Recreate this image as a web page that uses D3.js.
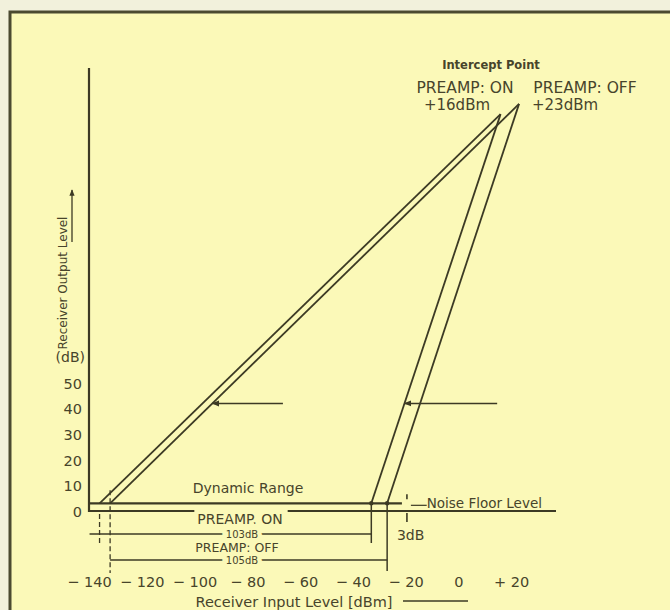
<!DOCTYPE html>
<html>
<head>
<meta charset="utf-8">
<script src="https://cdn.jsdelivr.net/npm/d3@7"></script>
<style>
  html, body { margin: 0; padding: 0; background: #f2f1dc; }
  svg { display: block; }
  text { font-family: "DejaVu Sans", sans-serif; fill: #47442b; }
</style>
</head>
<body>
<div id="chart"></div>
<script>
// values: input level in dBm, output level in dB
const xTicks = [-140, -120, -100, -80, -60, -40, -20, 0, 20]
const xTickLabels = ["− 140", "− 120", "− 100", "− 80", "− 60", "− 40", "− 20", "0", "+ 20"]
const yTicks = [0, 10, 20, 30, 40, 50]

const noiseFloor = 3
const onFundamental = [[-136, 3], [16, 155]]
const onThirdOrder = [[-33, 3], [16, 155]]
const offFundamental = [[-132, 3], [23, 159]]
const offThirdOrder = [[-27, 3], [23, 159]]
const pointerLevel = 42
const pointerEnds = [-66.5, 14.7]
const rangeLabels = ["103dB", "105dB"]

const W = 670, H = 610
const margin = {top: 68, right: 114, bottom: 99, left: 89}
const ink = "#3c3a24"
const paper = "#fbf9b8"

const svg = d3.select("#chart").append("svg")
  .attr("width", W)
  .attr("height", H)

// scanned sheet + frame
svg.append("rect").attr("width", W).attr("height", H).attr("fill", "#f2f1dc")
svg.append("rect")
  .attr("x", 10).attr("y", 12)
  .attr("width", W - 10).attr("height", H - 12)
  .attr("fill", paper)
svg.append("path")
  .attr("d", `M10,${H} V12 H${W}`)
  .attr("fill", "none")
  .attr("stroke", "#4b4a30")
  .attr("stroke-width", 3)

const x = d3.scaleLinear().domain([-140, 37]).range([margin.left, W - margin.right])
const y = d3.scaleLinear().domain([0, 173]).range([H - margin.bottom, margin.top])

// small arrow head, tip points along the line direction
svg.append("defs").append("marker")
  .attr("id", "head")
  .attr("viewBox", "0 0 10 10")
  .attr("refX", 9).attr("refY", 5)
  .attr("markerWidth", 5).attr("markerHeight", 5)
  .attr("orient", "auto")
  .append("path")
  .attr("d", "M0,1 L10,5 L0,9 Z")
  .attr("fill", ink)

const g = svg.append("g")

// tick labels, no tick marks
const yAxis = g.append("g")
  .attr("transform", `translate(${margin.left},0)`)
  .call(d3.axisLeft(y).tickValues(yTicks).tickSize(0).tickPadding(7))
const xAxis = g.append("g")
  .attr("transform", `translate(0,${y(0) + 66})`)
  .call(d3.axisBottom(x).tickValues(xTicks).tickSize(0).tickPadding(0)
    .tickFormat((d, i) => xTickLabels[i]))
yAxis.select(".domain").remove()
xAxis.select(".domain").remove()
g.selectAll(".tick text")
  .attr("font-family", "DejaVu Sans, sans-serif")
  .attr("font-size", "14.5px")
  .attr("fill", "#47442b")
yAxis.selectAll(".tick text").attr("dy", "0.36em")

g.append("text")
  .attr("x", margin.left - 4)
  .attr("y", y(60) + 5)
  .attr("text-anchor", "end")
  .attr("font-size", "14px")
  .text("(dB)")

// axis titles
g.append("text")
  .attr("transform", `translate(63,283) rotate(-90)`)
  .attr("text-anchor", "middle")
  .attr("dominant-baseline", "middle")
  .attr("font-size", "12px")
  .text("Receiver Output Level")
g.append("line")
  .attr("x1", 72).attr("y1", 242)
  .attr("x2", 72).attr("y2", 190)
  .attr("stroke", ink).attr("stroke-width", 1.3)
  .attr("marker-end", "url(#head)")

g.append("text")
  .attr("x", 294)
  .attr("y", 607)
  .attr("text-anchor", "middle")
  .attr("font-size", "14.5px")
  .text("Receiver Input Level [dBm]")
g.append("line")
  .attr("x1", 403).attr("x2", 468)
  .attr("y1", 601).attr("y2", 601)
  .attr("stroke", ink).attr("stroke-width", 1.5)

// "PREAMP. ON" sits in a gap of the x axis line
const onLabel = g.append("text")
  .attr("x", 240)
  .attr("y", y(0) + 13)
  .attr("text-anchor", "middle")
  .attr("font-size", "14px")
  .text("PREAMP. ON")
const ob = onLabel.node().getBBox()

g.append("path")
  .attr("d", `M${x(-140)},${y(173)} V${y(0)} H${ob.x - 3} M${ob.x + ob.width + 5},${y(0)} H${x(37)}`)
  .attr("fill", "none")
  .attr("stroke", ink)
  .attr("stroke-width", 2.2)

// noise floor
g.append("line")
  .attr("x1", x(-140)).attr("x2", x(-21.4))
  .attr("y1", y(noiseFloor)).attr("y2", y(noiseFloor))
  .attr("stroke", ink).attr("stroke-width", 2.2)
g.append("line")
  .attr("x1", x(-18)).attr("x2", x(-12))
  .attr("y1", y(noiseFloor) + 2).attr("y2", y(noiseFloor) + 2)
  .attr("stroke", ink).attr("stroke-width", 1.2)
g.append("text")
  .attr("x", x(-12))
  .attr("y", y(noiseFloor) + 5)
  .attr("font-size", "13.5px")
  .text("Noise Floor Level")

// 3 dB marker between axis and noise floor
const m3 = x(-19.5)
g.append("path")
  .attr("d", `M${m3},${y(noiseFloor) - 9} V${y(noiseFloor) - 4} M${m3},${y(0) + 2} V${y(0) + 11}`)
  .attr("stroke", ink).attr("stroke-width", 1.6)
g.append("text")
  .attr("x", m3 - 10)
  .attr("y", y(0) + 29)
  .attr("font-size", "14px")
  .text("3dB")

g.append("text")
  .attr("x", 248)
  .attr("y", y(noiseFloor) - 10)
  .attr("text-anchor", "middle")
  .attr("font-size", "14px")
  .text("Dynamic Range")

// response lines
const line = d3.line().x(d => x(d[0])).y(d => y(d[1]))
const curves = [onFundamental, onThirdOrder, offFundamental, offThirdOrder]
g.selectAll("path.curve")
  .data(curves)
  .enter().append("path")
  .attr("class", "curve")
  .attr("d", line)
  .attr("fill", "none")
  .attr("stroke", ink)
  .attr("stroke-width", 1.8)

g.selectAll("circle.knot")
  .data([onThirdOrder[0], offThirdOrder[0]])
  .enter().append("circle")
  .attr("class", "knot")
  .attr("cx", d => x(d[0]))
  .attr("cy", d => y(d[1]))
  .attr("r", 2.2)
  .attr("fill", ink)

// pointers at 40-odd dB
const atLevel = (seg, level) => {
  const [[x0, y0], [x1, y1]] = seg
  return x0 + (level - y0) * (x1 - x0) / (y1 - y0)
}
const pointers = [
  {from: atLevel(offFundamental, pointerLevel), to: pointerEnds[0]},
  {from: atLevel(onThirdOrder, pointerLevel), to: pointerEnds[1]}
]
g.selectAll("line.pointer")
  .data(pointers)
  .enter().append("line")
  .attr("class", "pointer")
  .attr("x1", d => x(d.to)).attr("x2", d => x(d.from))
  .attr("y1", y(pointerLevel)).attr("y2", y(pointerLevel))
  .attr("stroke", ink).attr("stroke-width", 1.5)
  .attr("marker-end", "url(#head)")

// dynamic range dimensions
const dims = [
  {lo: onFundamental[0][0], hi: onThirdOrder[0][0], dy: 23, top: y(0) + 3, bottom: y(0) + 34, title: null},
  {lo: offFundamental[0][0], hi: offThirdOrder[0][0], dy: 49, top: y(noiseFloor) - 13, bottom: y(0) + 62, title: "PREAMP: OFF"}
]
dims.forEach((d, i) => {
  const yy = y(0) + d.dy
  g.append("line")
    .attr("x1", x(d.lo)).attr("x2", x(d.lo))
    .attr("y1", d.top).attr("y2", d.bottom)
    .attr("stroke", ink).attr("stroke-width", 1.3)
    .attr("stroke-dasharray", "5,3")
  g.append("line")
    .attr("x1", x(d.hi)).attr("x2", x(d.hi))
    .attr("y1", y(noiseFloor)).attr("y2", yy + (i ? 11 : 9))
    .attr("stroke", ink).attr("stroke-width", 1.5)
  g.append("line")
    .attr("x1", x(d.lo) - (i ? 0 : 10)).attr("x2", x(d.hi))
    .attr("y1", yy).attr("y2", yy)
    .attr("stroke", ink).attr("stroke-width", 1.3)
  g.append("text")
    .attr("x", 242)
    .attr("y", yy + 3.5)
    .attr("text-anchor", "middle")
    .attr("font-size", "10px")
    .attr("stroke", paper).attr("stroke-width", 9)
    .attr("paint-order", "stroke")
    .text(rangeLabels[i])
  if (d.title) {
    g.append("text")
      .attr("x", 237)
      .attr("y", yy - 8.5)
      .attr("text-anchor", "middle")
      .attr("font-size", "12.5px")
      .text(d.title)
  }
})

// intercept point labels
g.append("text")
  .attr("x", 491).attr("y", 69)
  .attr("text-anchor", "middle")
  .attr("font-family", "Liberation Sans, Arial, sans-serif")
  .attr("font-weight", "bold")
  .attr("font-size", "11.5px")
  .text("Intercept Point")
g.append("text")
  .attr("x", 465).attr("y", 93)
  .attr("text-anchor", "middle")
  .attr("font-size", "15.5px")
  .text("PREAMP: ON")
g.append("text")
  .attr("x", 585).attr("y", 93)
  .attr("text-anchor", "middle")
  .attr("font-size", "15.5px")
  .text("PREAMP: OFF")
g.append("text")
  .attr("x", 457).attr("y", 110)
  .attr("text-anchor", "middle")
  .attr("font-size", "15px")
  .text("+16dBm")
g.append("text")
  .attr("x", 532).attr("y", 110)
  .attr("font-size", "15px")
  .text("+23dBm")
</script>
</body>
</html>
